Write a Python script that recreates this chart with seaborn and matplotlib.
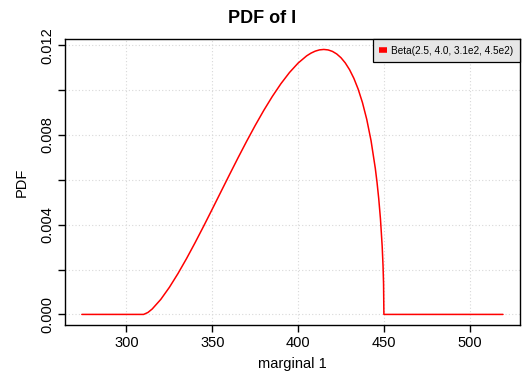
import matplotlib
matplotlib.use("Agg")
import matplotlib.pyplot as plt
import seaborn as sns
import pandas as pd

# Values
x_vals = [274, 305, 310, 312.5, 315, 320, 325, 330, 335, 340, 345, 350, 355, 360,
          365, 370, 375, 380, 385, 390, 395, 400, 405, 407.5, 410, 412.5, 415,
          417.5, 420, 422.5, 425, 427.5, 430, 432.5, 435, 437.5, 440, 442.5, 445,
          446, 447, 448, 449, 449.5, 449.8, 450, 451, 519.4]
pdf_vals = [0.0, 0.0, 0.0, 0.000086, 0.000241, 0.000669, 0.001206, 0.001819,
            0.002488, 0.003199, 0.003938, 0.004695, 0.005461, 0.006225, 0.006980,
            0.007715, 0.008423, 0.009095, 0.009719, 0.010287, 0.010787, 0.011205,
            0.011529, 0.011649, 0.011739, 0.011795, 0.011814, 0.011793, 0.011728,
            0.011614, 0.011445, 0.011213, 0.010911, 0.010527, 0.010046, 0.009447,
            0.008700, 0.007753, 0.006510, 0.005887, 0.005155, 0.004255, 0.003042,
            0.002162, 0.001372, 0.0, 0.0, 0.0]
x_ticks = [300, 350, 400, 450, 500]
y_ticks = [0.000, 0.002, 0.004, 0.006, 0.008, 0.010, 0.012]
y_tick_labels = ["0.000", "", "0.004", "", "0.008", "", "0.012"]
legend_label = "Beta(2.5, 4.0, 3.1e2, 4.5e2)"

sns.set_style("white")
plt.rcParams["font.family"] = ["Liberation Sans", "DejaVu Sans"]
plt.rcParams["text.color"] = "black"
plt.rcParams["axes.labelcolor"] = "black"

df = pd.DataFrame({"x": x_vals, "pdf": pdf_vals})

fig = plt.figure(figsize=(5.24, 3.81), dpi=100)
ax = fig.add_axes([65 / 524, 56 / 381, 455 / 524, 286 / 381])

sns.lineplot(data=df, x="x", y="pdf", ax=ax, color="#ff0000", linewidth=1.1,
             label=legend_label, legend=False)

ax.set_xlim(264.2, 529.3)
ax.set_ylim(-0.000472, 0.01228)
ax.set_xticks(x_ticks)
ax.set_xticklabels([str(v) for v in x_ticks])
ax.set_yticks(y_ticks)
ax.set_yticklabels(y_tick_labels, rotation=90, va="center")

ax.grid(True, color="#d8d8d8", linestyle=(0, (1, 2)), linewidth=0.8)
ax.set_axisbelow(True)

for s in ax.spines.values():
    s.set_color("black")
    s.set_linewidth(1.0)

ax.tick_params(axis="both", direction="out", length=5, width=1.0, color="black",
               labelsize=10.5, labelcolor="black", pad=3,
               bottom=True, left=True)

ax.set_xlabel("marginal 1", fontsize=10.5, labelpad=5, color="black")
ax.set_ylabel("PDF", fontsize=10.5, labelpad=8, color="black")
fig.suptitle("PDF of I", fontsize=13, fontweight="bold", x=0.5, y=0.975,
             color="black")

leg = ax.legend(loc="upper right", borderaxespad=0, fontsize=7.2,
                frameon=True, fancybox=False, framealpha=1,
                facecolor="#e6e6e6", edgecolor="black",
                handlelength=0.8, handletextpad=0.4, borderpad=0.65)
for h in leg.get_lines():
    h.set_linewidth(4)
    h.set_solid_capstyle("butt")
leg.get_frame().set_linewidth(0.9)
for t in leg.get_texts():
    t.set_color("black")

fig.savefig("out.png", dpi=100)
